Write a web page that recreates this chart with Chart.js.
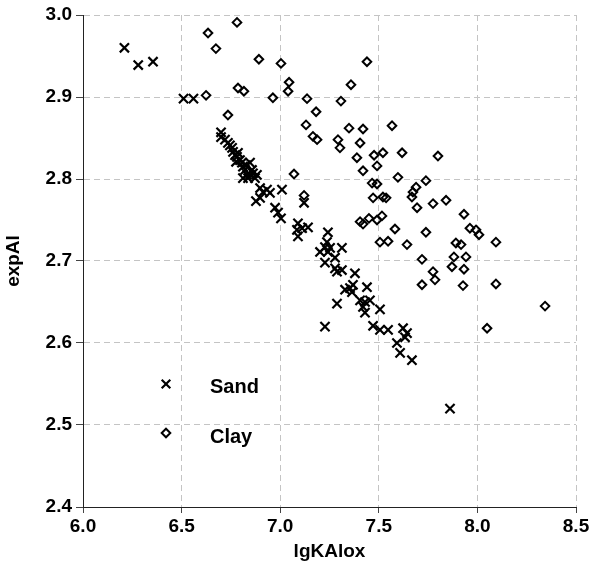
<!DOCTYPE html>
<html>
<head>
<meta charset="utf-8">
<script src="https://cdn.jsdelivr.net/npm/chart.js@4"></script>
<style>
  body { margin: 0; background: #fff; }
  #wrap { width: 590px; height: 570px; }
</style>
</head>
<body>
<div id="wrap"><canvas id="scatterChart"></canvas></div>
<script>
// values
const sandX = [6.21,6.28,6.355,6.51,6.56,6.70,6.70,6.72,6.735,6.745,
  6.756,6.761,6.771,6.781,6.786,6.796,6.806,6.811,6.822,6.832,
  6.847,6.857,6.862,6.882,6.837,6.811,6.898,6.913,6.933,6.948,
  7.009,6.877,6.898,6.974,6.989,7.004,7.121,7.090,7.085,7.111,
  7.141,7.090,7.242,7.237,7.227,7.202,7.242,7.253,7.313,7.227,
  7.278,7.278,7.288,7.313,7.379,7.329,7.354,7.369,7.364,7.440,
  7.405,7.430,7.455,7.420,7.430,7.288,7.506,7.227,7.471,7.506,
  7.547,7.623,7.643,7.633,7.592,7.608,7.668,7.861,
  6.776,6.827,6.847,6.872];
const sandY = [2.960,2.939,2.943,2.898,2.898,2.857,2.851,2.848,2.844,2.841,
  2.838,2.833,2.829,2.827,2.832,2.823,2.820,2.815,2.811,2.805,
  2.820,2.811,2.807,2.805,2.801,2.801,2.789,2.784,2.787,2.783,
  2.787,2.773,2.777,2.765,2.759,2.752,2.771,2.746,2.738,2.740,
  2.741,2.730,2.735,2.723,2.717,2.711,2.711,2.716,2.716,2.698,
  2.704,2.691,2.687,2.689,2.685,2.665,2.667,2.671,2.662,2.668,
  2.652,2.650,2.652,2.644,2.637,2.648,2.641,2.620,2.621,2.616,
  2.616,2.618,2.612,2.607,2.600,2.588,2.579,2.520,
  2.821,2.817,2.805,2.801];
const clayX = [6.781,6.634,6.674,6.892,7.004,7.045,7.040,6.786,6.816,6.624,
  6.963,7.136,7.182,7.359,7.308,7.131,7.349,7.166,7.187,7.293,
  7.303,6.735,7.440,7.420,7.567,7.405,7.389,7.476,7.521,7.618,
  7.800,7.420,7.491,7.466,7.491,7.597,7.739,7.689,7.673,7.121,
  7.471,7.521,7.537,7.668,7.841,7.694,7.775,7.932,7.516,7.491,
  7.405,7.420,7.450,7.582,7.739,7.962,7.993,8.008,7.506,7.547,
  7.643,7.891,7.917,8.094,7.719,7.881,7.942,7.871,7.932,7.775,
  7.785,7.719,7.927,8.094,8.343,8.049,7.070];
const clayY = [2.991,2.978,2.959,2.946,2.941,2.918,2.907,2.911,2.907,2.902,
  2.899,2.898,2.882,2.915,2.895,2.866,2.862,2.852,2.848,2.848,
  2.838,2.878,2.943,2.861,2.865,2.844,2.826,2.829,2.832,2.832,
  2.828,2.810,2.816,2.795,2.794,2.802,2.798,2.790,2.784,2.780,
  2.777,2.778,2.777,2.778,2.774,2.765,2.770,2.757,2.755,2.750,
  2.748,2.745,2.752,2.739,2.735,2.740,2.738,2.732,2.723,2.724,
  2.720,2.722,2.720,2.723,2.702,2.705,2.705,2.693,2.690,2.687,
  2.677,2.671,2.670,2.672,2.645,2.618,2.806];
const xTicks = [6.0, 6.5, 7.0, 7.5, 8.0, 8.5];
const yTicks = [2.4, 2.5, 2.6, 2.7, 2.8, 2.9, 3.0];
const seriesNames = ['Sand', 'Clay'];

const toPoints = (xs, ys) => xs.map((x, i) => ({x: x, y: ys[i]}));
const fontBold = {family: '"Liberation Sans", Arial, sans-serif', size: 19, weight: 'bold'};

// legend drawn inside the plot, bottom left
const innerLegend = {
  id: 'innerLegend',
  afterDatasetsDraw(chart) {
    const {ctx, chartArea} = chart;
    const mx = chartArea.left + 83;
    const rows = [chartArea.top + 369, chartArea.top + 418];
    ctx.save();
    ctx.strokeStyle = '#000';
    ctx.lineWidth = 2.2;
    // cross
    let y = rows[0];
    ctx.beginPath();
    ctx.moveTo(mx - 4.3, y - 4.3); ctx.lineTo(mx + 4.3, y + 4.3);
    ctx.moveTo(mx - 4.3, y + 4.3); ctx.lineTo(mx + 4.3, y - 4.3);
    ctx.stroke();
    // diamond
    y = rows[1];
    ctx.lineWidth = 2;
    ctx.beginPath();
    ctx.moveTo(mx - 4.3, y); ctx.lineTo(mx, y - 4.3); ctx.lineTo(mx + 4.3, y); ctx.lineTo(mx, y + 4.3);
    ctx.closePath();
    ctx.stroke();
    ctx.fillStyle = '#000';
    ctx.font = 'bold 20px "Liberation Sans", Arial, sans-serif';
    ctx.textBaseline = 'middle';
    ctx.textAlign = 'left';
    ctx.fillText(seriesNames[0], chartArea.left + 127, rows[0] + 3);
    ctx.fillText(seriesNames[1], chartArea.left + 127, rows[1] + 4);
    ctx.restore();
  }
};

const scatterChart = document.getElementById('scatterChart');
new Chart(scatterChart, {
  type: 'scatter',
  data: {
    datasets: [{
      label: seriesNames[0],
      data: toPoints(sandX, sandY),
      pointStyle: 'crossRot',
      radius: 6.5,
      borderWidth: 2.2,
      borderColor: '#000',
      backgroundColor: '#000'
    }, {
      label: seriesNames[1],
      data: toPoints(clayX, clayY),
      pointStyle: 'rectRot',
      radius: 4.3,
      borderWidth: 2,
      borderColor: '#000',
      backgroundColor: 'rgba(0,0,0,0)'
    }]
  },
  options: {
    responsive: true,
    maintainAspectRatio: false,
    animation: false,
    events: [],
    layout: {padding: 0},
    plugins: {
      legend: {display: false},
      tooltip: {enabled: false}
    },
    scales: {
      x: {
        type: 'linear',
        min: 6.0,
        max: 8.5,
        afterBuildTicks: s => { s.ticks = xTicks.map(v => ({value: v})); },
        afterFit: s => { s.height = 63; s.paddingLeft = 0; s.paddingRight = 14; },
        border: {display: true, color: '#222', width: 1, dash: [6, 4]},
        grid: {
          color: '#c4c4c4',
          tickColor: '#444',
          tickLength: 6,
          tickBorderDash: []
        },
        ticks: {
          color: '#000',
          font: fontBold,
          padding: 2,
          maxRotation: 0,
          callback: v => Number(v).toFixed(1)
        },
        title: {
          display: true,
          text: 'lgKAlox',
          color: '#000',
          font: fontBold,
          padding: {top: 0, bottom: 7}
        }
      },
      y: {
        type: 'linear',
        min: 2.4,
        max: 3.0,
        afterBuildTicks: s => { s.ticks = yTicks.map(v => ({value: v})); },
        afterFit: s => { s.width = 83; s.paddingTop = 15; s.paddingBottom = 0; },
        border: {display: true, color: '#222', width: 1, dash: [6, 4]},
        grid: {
          color: '#c4c4c4',
          tickColor: '#444',
          tickLength: 7,
          tickBorderDash: []
        },
        ticks: {
          color: '#000',
          font: fontBold,
          padding: 4,
          callback: v => Number(v).toFixed(1)
        },
        title: {
          display: true,
          text: 'expAl',
          color: '#000',
          font: fontBold,
          padding: {top: 2, bottom: 0}
        }
      }
    }
  },
  plugins: [innerLegend]
});
</script>
</body>
</html>
